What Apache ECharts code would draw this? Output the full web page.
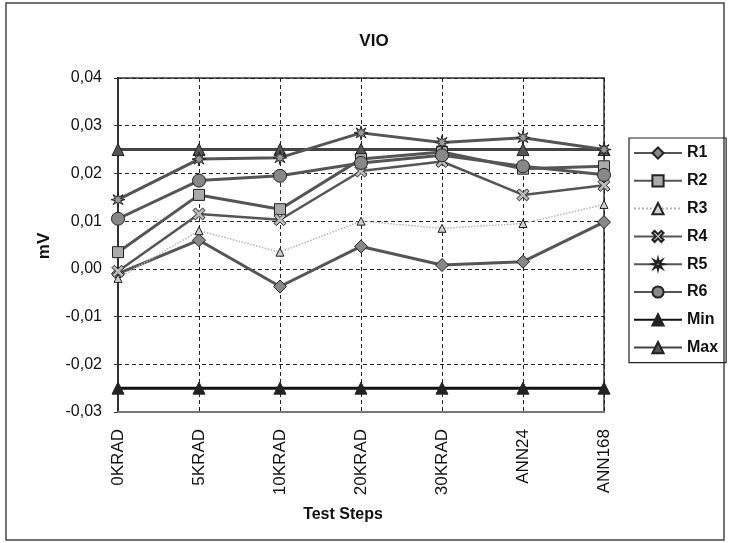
<!DOCTYPE html>
<html>
<head>
<meta charset="utf-8">
<script src="https://cdn.jsdelivr.net/npm/echarts@6/dist/echarts.min.js"></script>
<style>
html,body{margin:0;padding:0;background:#fff;}
#c{width:729px;height:543px;}
</style>
</head>
<body>
<div id="c"></div>
<script>
var categories = ['0KRAD','5KRAD','10KRAD','20KRAD','30KRAD','ANN24','ANN168'];
var R1 = [-0.001, 0.006, -0.0037, 0.0047, 0.0008, 0.0015, 0.0098];
var R2 = [0.0035, 0.0155, 0.0125, 0.023, 0.0245, 0.021, 0.0215];
var R3 = [-0.002, 0.008, 0.0035, 0.010, 0.0085, 0.0095, 0.0135];
var R4 = [-0.0005, 0.0115, 0.0103, 0.0205, 0.0225, 0.0155, 0.0175];
var R5 = [0.0145, 0.023, 0.0233, 0.0285, 0.0265, 0.0275, 0.025];
var R6 = [0.0105, 0.0185, 0.0195, 0.0222, 0.0238, 0.0215, 0.0197];
var MinV = [-0.025, -0.025, -0.025, -0.025, -0.025, -0.025, -0.025];
var MaxV = [0.025, 0.025, 0.025, 0.025, 0.025, 0.025, 0.025];
var yTicks = {min: -0.03, max: 0.04, interval: 0.01};

var FONT = '"Liberation Sans", Arial, sans-serif';
var X_PATH = 'path://M0,2 L2,0 L5,3 L8,0 L10,2 L7,5 L10,8 L8,10 L5,7 L2,10 L0,8 L3,5 Z';
var STAR_PATH = 'path://M5,0 L5.77,3.15 L8.54,1.46 L6.85,4.23 L10,5 L6.85,5.77 L8.54,8.54 L5.77,6.85 L5,10 L4.23,6.85 L1.46,8.54 L3.15,5.77 L0,5 L3.15,4.23 L1.46,1.46 L4.23,3.15 Z';

function mkSeries(name, data, symbol, size, lineColor, width, fill, lineType) {
  return {
    name: name, type: 'line', data: data,
    symbol: symbol, symbolSize: size, showSymbol: true,
    lineStyle: {color: lineColor, width: width, type: lineType || 'solid'},
    itemStyle: {color: fill, borderColor: '#222', borderWidth: 1},
    emphasis: {disabled: true}
  };
}

var chart = echarts.init(document.getElementById('c'), null, {renderer: 'canvas'});
chart.setOption({
  animation: false,
  backgroundColor: '#fff',
  title: {
    text: 'VIO', left: 369, top: 28, textAlign: 'center',
    textStyle: {fontFamily: FONT, fontSize: 17, fontWeight: 'bold', color: '#111'}
  },
  grid: {
    left: 118, right: 125, top: 78, bottom: 131,
    show: true, borderColor: '#666', borderWidth: 2, backgroundColor: 'transparent'
  },
  legend: {
    orient: 'vertical', left: 629, top: 138,
    padding: [7, 8, 7, 4],
    itemWidth: 48, itemHeight: 14, itemGap: 11.8,
    borderColor: '#222', borderWidth: 1.2,
    textStyle: {fontFamily: FONT, fontSize: 16, fontWeight: 'bold', color: '#111'},
    data: ['R1','R2','R3','R4','R5','R6','Min','Max']
  },
  xAxis: {
    type: 'category', data: categories, boundaryGap: false,
    axisLine: {show: true, onZero: false, lineStyle: {color: '#777', width: 2}},
    axisTick: {show: false},
    axisLabel: {rotate: 90, margin: 17, fontFamily: FONT, fontSize: 17, color: '#111'},
    splitLine: {show: true, lineStyle: {color: '#222', width: 1, type: [4, 3]}}
  },
  yAxis: {
    type: 'value', min: yTicks.min, max: yTicks.max, interval: yTicks.interval,
    axisLine: {show: true, lineStyle: {color: '#333', width: 2}},
    axisTick: {show: true, length: 4, lineStyle: {color: '#333'}},
    axisLabel: {
      margin: 16, fontFamily: FONT, fontSize: 16, color: '#111',
      formatter: function (v) { return v.toFixed(2).replace('.', ','); }
    },
    splitLine: {show: true, lineStyle: {color: '#222', width: 1, type: [4, 3]}}
  },
  graphic: [
    {type: 'rect', shape: {x: 6, y: 3, width: 718, height: 537},
     style: {fill: 'none', stroke: '#444', lineWidth: 1.5}, silent: true, z: -1},
    {type: 'text', x: 44, y: 246, rotation: Math.PI / 2,
     style: {text: 'mV', fontFamily: FONT, fontSize: 17, fontWeight: 'bold', fill: '#111',
             textAlign: 'center', textVerticalAlign: 'middle'}},
    {type: 'text', x: 343, y: 515,
     style: {text: 'Test Steps', fontFamily: FONT, fontSize: 16, fontWeight: 'bold', fill: '#111',
             textAlign: 'center', textVerticalAlign: 'middle'}}
  ],
  series: [
    mkSeries('Min', MinV, 'triangle', 12, '#111', 3, '#222'),
    mkSeries('Max', MaxV, 'triangle', 12, '#444', 3, '#555'),
    mkSeries('R1', R1, 'diamond', 13, '#555', 3, '#888'),
    mkSeries('R2', R2, 'rect', 11, '#555', 3, '#aaa'),
    mkSeries('R3', R3, 'triangle', 8, '#b5b5b5', 1.5, '#d0d0d0', 'dotted'),
    mkSeries('R4', R4, X_PATH, 12, '#555', 2.5, '#bbb'),
    mkSeries('R5', R5, STAR_PATH, 14, '#555', 3, '#999'),
    mkSeries('R6', R6, 'circle', 13, '#555', 3, '#888')
  ]
});
</script>
</body>
</html>
